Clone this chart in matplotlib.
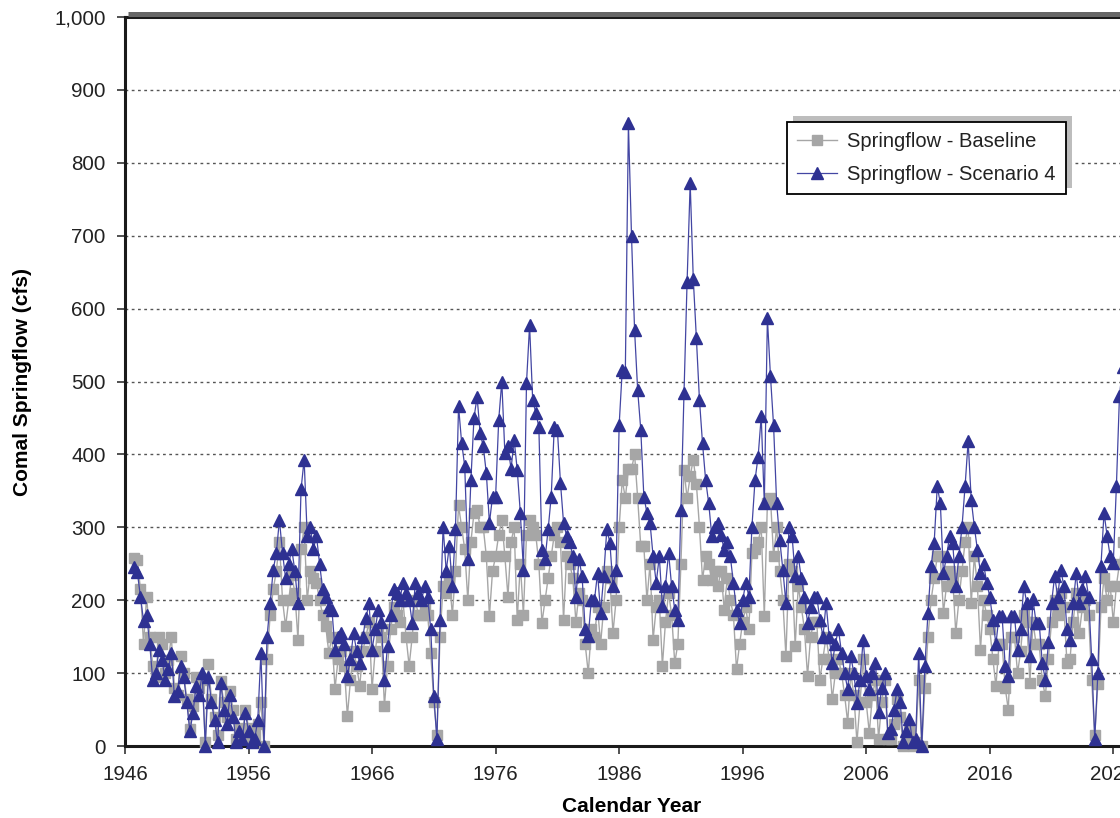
import numpy as np
import matplotlib
matplotlib.use('Agg')
import matplotlib.pyplot as plt
from matplotlib.ticker import FuncFormatter
from matplotlib.patches import Rectangle
from matplotlib.lines import Line2D
from matplotlib.transforms import IdentityTransform

plt.rcParams['font.family'] = ['Liberation Sans', 'DejaVu Sans']

# quarterly values, first point at 1946.75
first_year = 1946.75
step = 0.25

scenario_flow = [
    245,
    238, 205, 172, 180,  140, 90, 100, 132,  118, 91, 105, 128,  68, 75, 110, 95,
    60, 20, 45, 82,  70, 100, 0, 95,  60, 35, 5, 87,  50, 30, 70, 40,
    5, 20, 10, 45,  20, 5, 10, 36,  128, 0, 150, 196,  242, 265, 310, 265,
    230, 250, 270, 240,  196, 352, 393, 288,  300, 270, 288, 250,  215, 205, 190, 187,
    132, 150, 155, 140,  96, 120, 155, 130,  114, 150, 175, 196,  132, 160, 187, 170,
    91, 137, 180, 215,  210, 200, 224, 210,  200, 169, 224, 210,  200, 219, 205, 160,
    68, 9, 173, 301,  240, 274, 219, 297,  466, 416, 384, 256,  365, 450, 479, 429,
    411, 374, 306, 342,  342, 447, 500, 402,  411, 380, 420, 379,  320, 242, 498, 577,
    475, 457, 438, 269,  256, 297, 342, 438,  434, 361, 306, 288,  280, 260, 205, 256,
    233, 160, 151, 200,  200, 237, 183, 233,  297, 279, 219, 242,  440, 516, 513, 854,
    700, 570, 488, 434,  342, 320, 306, 260,  224, 260, 192, 220,  265, 219, 187, 173,
    324, 484, 637, 772,  641, 560, 475, 415,  365, 333, 288, 300,  306, 290, 269, 280,
    260, 224, 187, 169,  200, 224, 205, 301,  365, 397, 452, 333,  587, 507, 440, 333,
    283, 242, 196, 301,  288, 233, 260, 230,  205, 169, 190, 205,  205, 173, 150, 196,
    150, 114, 140, 160,  128, 100, 78, 123,  100, 59, 90, 146,  96, 78, 100, 114,
    46, 80, 100, 18,  23, 50, 78, 60,  5, 20, 37, 5,  10, 128, 0, 110,
    183, 247, 279, 356,  333, 237, 260, 288,  279, 219, 260, 300,  356, 418, 338, 301,
    269, 237, 250, 224,  205, 173, 140, 178,  178, 110, 96, 178,  178, 132, 160, 219,
    196, 123, 201, 169,  169, 114, 91, 142,  196, 233, 205, 242,  219, 160, 146, 196,
    237, 196, 215, 233,  205, 120, 9, 100,  247, 320, 288, 260,  251, 356, 480, 520,
]

baseline_flow = [
    258,
    255, 215, 140, 205,  150, 110, 95, 150,  140, 100, 118, 150,  80, 70, 123, 100,
    65, 23, 55, 95,  80, 90, 5, 112,  65, 40, 15, 89,  60, 40, 75, 50,
    10, 25, 15, 50,  25, 8, 15, 30,  60, 0, 120, 180,  215, 240, 280, 200,
    164, 200, 235, 210,  146, 270, 300, 200,  240, 230, 224, 200,  180, 164, 128, 150,
    78, 120, 130, 110,  41, 90, 130, 110,  82, 130, 150, 170,  78, 130, 160, 150,
    55, 110, 160, 190,  180, 170, 200, 150,  110, 150, 200, 180,  180, 190, 180, 128,
    60, 15, 150, 220,  210, 230, 180, 240,  330, 300, 270, 200,  280, 320, 324, 300,
    300, 260, 178, 240,  260, 290, 310, 260,  205, 280, 300, 173,  250, 180, 290, 310,
    300, 290, 250, 169,  200, 230, 260, 290,  300, 280, 173, 260,  250, 230, 170, 210,
    200, 140, 100, 160,  150, 190, 140, 190,  240, 230, 155, 200,  300, 365, 340, 380,
    380, 400, 340, 274,  274, 200, 250, 146,  190, 200, 110, 170,  210, 180, 114, 140,
    250, 379, 340, 370,  393, 360, 301, 228,  260, 250, 228, 240,  219, 240, 187, 230,
    200, 180, 105, 140,  170, 190, 160, 265,  270, 280, 300, 178,  333, 340, 260, 300,
    240, 200, 123, 250,  240, 137, 220, 190,  160, 96, 150, 170,  170, 91, 120, 150,
    120, 64, 100, 120,  100, 70, 32, 100,  70, 5, 60, 120,  60, 18, 70, 90,
    9, 60, 90, 10,  10, 30, 65, 40,  0, 10, 20, 0,  5, 90, 0, 80,
    150, 200, 230, 260,  260, 183, 220, 240,  230, 155, 200, 240,  280, 300, 196, 260,
    220, 132, 200, 180,  160, 120, 82, 140,  140, 80, 50, 150,  150, 100, 130, 180,
    170, 87, 170, 140,  140, 90, 68, 120,  170, 200, 180, 210,  190, 114, 120, 170,
    210, 155, 190, 200,  180, 90, 15, 85,  190, 230, 200, 220,  170, 220, 250, 280,
]

x_ticks = [1946, 1956, 1966, 1976, 1986, 1996, 2006, 2016, 2026]
y_ticks = [0, 100, 200, 300, 400, 500, 600, 700, 800, 900, 1000]

years = first_year + step * np.arange(len(scenario_flow))

fig = plt.figure(figsize=(11.2, 8.18), dpi=100)
ax = fig.add_axes([125 / 1120, 72 / 818, 1013 / 1120, 729 / 818])

ax.plot(years, baseline_flow, color='#A6A6A6', lw=1, marker='s', ms=6.5,
        mfc='#A6A6A6', mec='#A6A6A6', label='Springflow - Baseline',
        clip_on=False, zorder=3)
ax.plot(years, scenario_flow, color='#4346A3', lw=0.9, marker='^', ms=8.5,
        mfc='#2E3192', mec='#2E3192', label='Springflow - Scenario 4',
        clip_on=False, zorder=4)

ax.set_xlim(1946, 2028)
ax.set_ylim(0, 1000)
ax.set_xticks(x_ticks)
ax.set_yticks(y_ticks)
ax.yaxis.set_major_formatter(FuncFormatter(lambda v, p: f'{int(v):,}'))
ax.grid(axis='y', color='#555555', ls=(0, (2, 2.5)), lw=1)
ax.set_axisbelow(True)

ax.spines['right'].set_visible(False)
for s in ['left', 'bottom', 'top']:
    ax.spines[s].set_linewidth(2.2)
    ax.spines[s].set_color('#1a1a1a')
ax.tick_params(axis='both', direction='out', length=6, width=1.2,
               color='#333333', labelsize=14.8, labelcolor='#222222')
ax.tick_params(axis='y', pad=8)
ax.tick_params(axis='x', pad=8)

ax.set_xlabel('Calendar Year', fontsize=15, fontweight='bold', labelpad=9)
ax.set_ylabel('Comal Springflow (cfs)', fontsize=15, fontweight='bold', labelpad=16)

# gray band above the plot area
fig.add_artist(Line2D([128 / 1120, 1], [1 - 13.5 / 818] * 2, transform=fig.transFigure,
                      color='#666666', lw=3.6, solid_capstyle='butt'))

leg = ax.legend(loc='upper left', bbox_to_anchor=(787 / 1120, 1 - 122 / 818),
                bbox_transform=fig.transFigure, fontsize=14.5, fancybox=False,
                borderaxespad=0, handlelength=2.0, handletextpad=0.5,
                labelspacing=0.7, borderpad=0.5, framealpha=1)
leg.get_frame().set_edgecolor('black')
leg.get_frame().set_linewidth(1.3)
for t in leg.get_texts():
    t.set_color('#222222')

# legend drop shadow, offset up and right
fig.canvas.draw()
bb = leg.get_window_extent()
shadow = Rectangle((bb.x0 + 6, bb.y0 + 6), bb.width, bb.height,
                   transform=IdentityTransform(), facecolor='#BDBDBD',
                   edgecolor='none', zorder=4.9, clip_on=False)
ax.add_artist(shadow)

fig.savefig('out.png', dpi=100)
